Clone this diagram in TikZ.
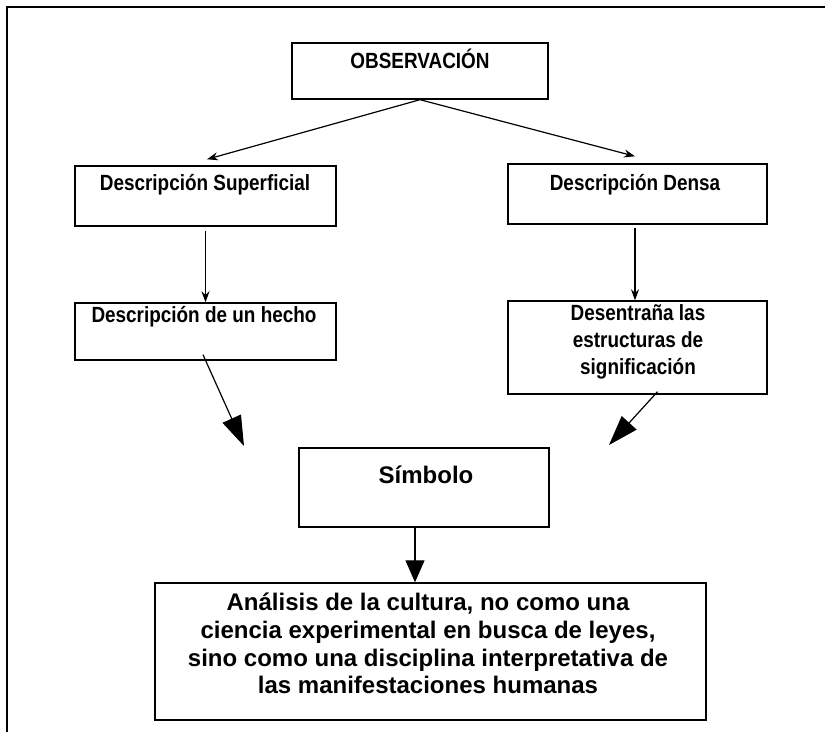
\documentclass[tikz,border=0pt]{standalone}
\usepackage{fontspec}
\setmainfont{Liberation Sans}
\newfontfamily\narrowfont[FakeStretch=0.86]{Liberation Sans}
\usetikzlibrary{arrows.meta}
\tikzset{
  box/.style={draw=black, line width=1.4pt, fill=white, inner sep=0pt},
  ntext/.style={font=\narrowfont\bfseries\fontsize{22}{27}\selectfont, inner sep=0pt, align=center, anchor=base},
  wtext/.style={font=\bfseries\fontsize{24}{27.7}\selectfont, inner sep=0pt, align=center, anchor=base},
  conn/.style={line width=1.2pt, -{Stealth[length=11pt,width=8pt]}},
  bigconn/.style={line width=1.2pt, -{Triangle[length=30pt,width=20pt]}},
  frameline/.style={line width=1.5pt}
}
\begin{document}
\begin{tikzpicture}[x=1pt,y=-1pt]
\useasboundingbox (0,0) rectangle (825,732);
\draw[frameline] (7,732) -- (7,7) -- (825,7);
% boxes
\node[box, minimum width=256pt, minimum height=56pt] (obs) at (420,71) {};
\node[box, minimum width=261pt, minimum height=60pt] (sup) at (205.5,196) {};
\node[box, minimum width=259pt, minimum height=60pt] (den) at (637.5,194) {};
\node[box, minimum width=261pt, minimum height=57pt] (hec) at (205.5,331.5) {};
\node[box, minimum width=259pt, minimum height=93pt] (des) at (637.5,347.5) {};
\node[box, minimum width=250pt, minimum height=79pt] (sim) at (424,487.5) {};
\node[box, minimum width=551pt, minimum height=137pt] (ana) at (430.5,651.5) {};
% texts
\node[ntext] (obst) at (420,68) {OBSERVACIÓN};
\node[ntext] (supt) at (205,190) {Descripción Superficial};
\node[ntext] (dent) at (635,190) {Descripción Densa};
\node[ntext] (hect) at (204,322) {Descripción de un hecho};
\node[ntext, anchor=north] (dest) at (638,304) {Desentraña las\\estructuras de\\significación};
\node[font=\bfseries\fontsize{24}{28}\selectfont, inner sep=0pt, anchor=base] (simt) at (426,483) {Símbolo};
\node[wtext, anchor=north] (anat) at (428,593) {Análisis de la cultura, no como una\\ciencia experimental en busca de leyes,\\sino como una disciplina interpretativa de\\las manifestaciones humanas};
% connectors
\coordinate (tipL) at (244,446);
\coordinate (tipR) at (609,445);
\draw[conn] (obs.south) -- ([shift={(1.5pt,6pt)}]sup.north);
\draw[conn] (obs.south) -- ([shift={(-2.5pt,7pt)}]den.north);
\draw[conn] ([yshift=-4pt]sup.south) -- (hec.north);
\draw[conn] ([shift={(-2.5pt,-3pt)}]den.south) -- ([xshift=-2.5pt]des.north);
\draw[bigconn] ([shift={(-2.5pt,6pt)}]hec.south) -- (tipL);
\draw[bigconn] ([shift={(20pt,3pt)}]des.south) -- (tipR);
\draw[line width=1.2pt, -{Triangle[length=22pt,width=19pt]}] ([xshift=-9pt]sim.south) -- ([xshift=-9pt]sim.south |- ana.north);
\end{tikzpicture}
\end{document}
